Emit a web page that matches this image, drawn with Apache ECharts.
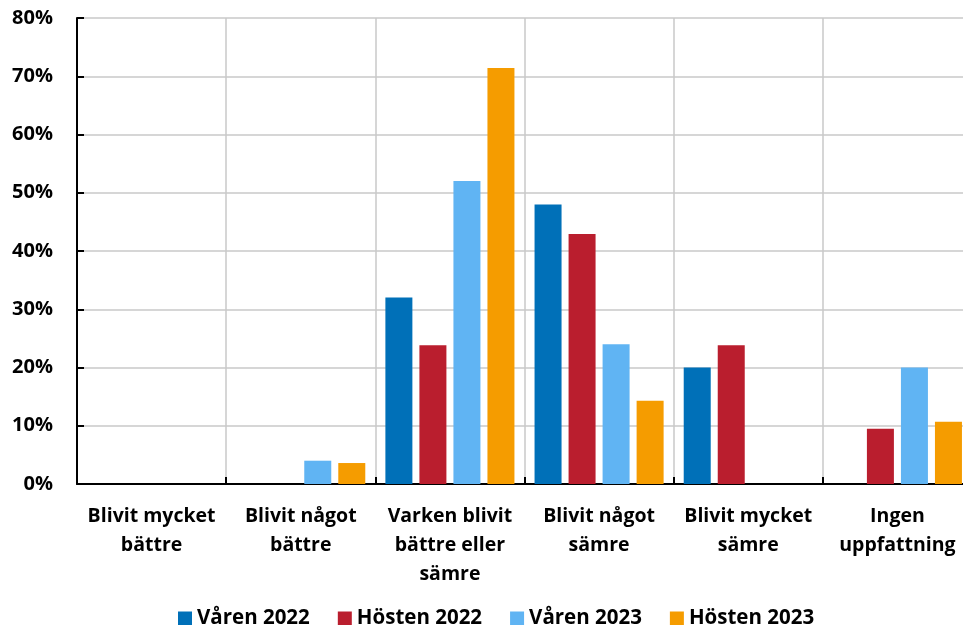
<!DOCTYPE html>
<html style="height: 100%">
<head>
    <meta charset="utf-8">
    <script src="https://cdn.jsdelivr.net/npm/echarts@6/dist/echarts.min.js"></script>
</head>
<body style="height: 100%; margin: 0; background: #fff">
    <div id="main" style="width:963px;height:625px;"></div>
    <script type="text/javascript">
    var categories = ['Blivit mycket\nbättre', 'Blivit något\nbättre', 'Varken blivit\nbättre eller\nsämre',
        'Blivit något\nsämre', 'Blivit mycket\nsämre', 'Ingen\nuppfattning'];
    var varen2022 = [null, null, 32, 48, 20, null];
    var hosten2022 = [null, null, 23.8, 42.9, 23.8, 9.5];
    var varen2023 = [null, 4, 52, 24, null, 20];
    var hosten2023 = [null, 3.6, 71.4, 14.3, null, 10.7];
    var seriesNames = ['Våren 2022', 'Hösten 2022', 'Våren 2023', 'Hösten 2023'];
    var colors = ['#0070b8', '#ba1e2e', '#60b4f3', '#f59c00'];

    var myChart = echarts.init(document.getElementById('main'));
    var font = '"Open Sans", sans-serif';

    function bar(i, data) {
        return {
            name: seriesNames[i],
            type: 'bar',
            barWidth: 27,
            barGap: '26%',
            itemStyle: { color: colors[i] },
            data: data
        };
    }

    var option = {
        animation: false,
        color: colors,
        textStyle: { fontFamily: font },
        // plot runs a bit past the right edge, like the original
        grid: { left: 77, width: 895, top: 18, bottom: 141, outerBoundsMode: 'none' },
        legend: {
            top: 603,
            left: 173,
            itemWidth: 14,
            itemHeight: 14,
            itemGap: 28,
            icon: 'rect',
            textStyle: { fontSize: 20.5, fontWeight: 'bold', color: '#000', fontFamily: font },
            data: seriesNames
        },
        xAxis: {
            type: 'category',
            data: categories,
            axisLine: { lineStyle: { color: '#000', width: 2 } },
            axisTick: { show: true, inside: true, length: 7, lineStyle: { color: '#000', width: 2 } },
            splitLine: { show: true, lineStyle: { color: '#c8c8c8', width: 1.5 } },
            axisLabel: {
                interval: 0,
                margin: 18,
                fontSize: 19.5,
                fontWeight: 'bold',
                color: '#000',
                lineHeight: 29,
                fontFamily: font
            }
        },
        yAxis: {
            type: 'value',
            min: 0,
            max: 80,
            interval: 10,
            axisLine: { show: true, lineStyle: { color: '#000', width: 2 } },
            axisTick: { show: true, inside: true, length: 7, lineStyle: { color: '#000', width: 2 } },
            splitLine: { lineStyle: { color: '#c8c8c8', width: 1.5 } },
            axisLabel: {
                formatter: '{value}%',
                margin: 24,
                fontSize: 20,
                fontWeight: 'bold',
                color: '#000',
                fontFamily: font
            }
        },
        series: [
            bar(0, varen2022),
            bar(1, hosten2022),
            bar(2, varen2023),
            bar(3, hosten2023)
        ]
    };
    myChart.setOption(option);
    </script>
</body>
</html>
